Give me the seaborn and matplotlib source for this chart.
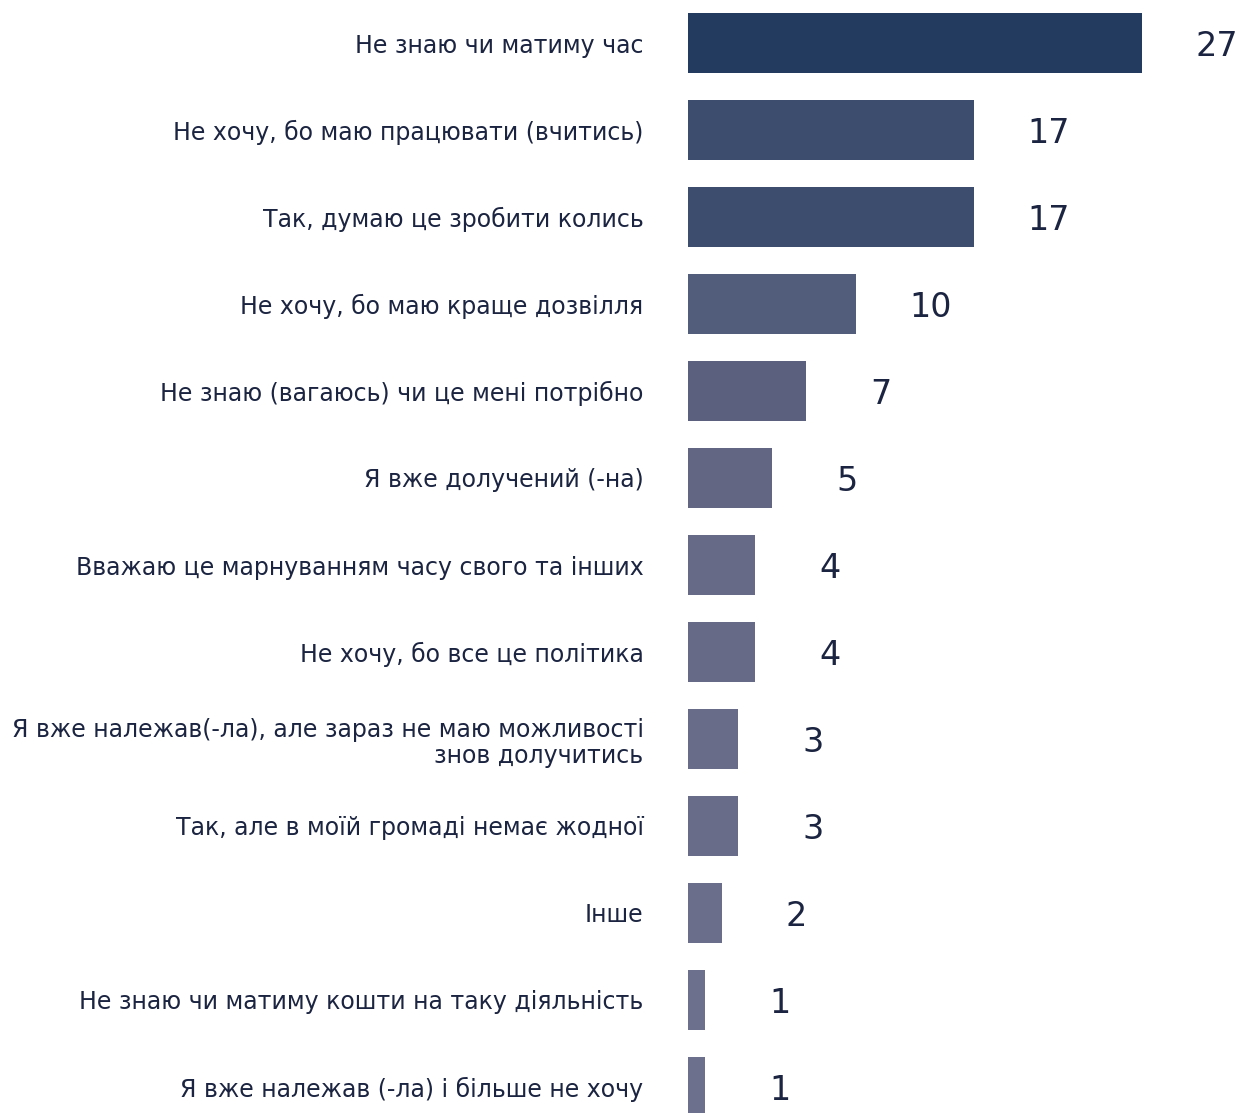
import matplotlib
matplotlib.use("Agg")
import matplotlib.pyplot as plt
import seaborn as sns
import pandas as pd

categories = [
    "Не знаю чи матиму час",
    "Не хочу, бо маю працювати (вчитись)",
    "Так, думаю це зробити колись",
    "Не хочу, бо маю краще дозвілля",
    "Не знаю (вагаюсь) чи це мені потрібно",
    "Я вже долучений (-на)",
    "Вважаю це марнуванням часу свого та інших",
    "Не хочу, бо все це політика",
    "Я вже належав(-ла), але зараз не маю можливості\nзнов долучитись",
    "Так, але в моїй громаді немає жодної",
    "Інше",
    "Не знаю чи матиму кошти на таку діяльність",
    "Я вже належав (-ла) і більше не хочу",
]
values = [27, 17, 17, 10, 7, 5, 4, 4, 3, 3, 2, 1, 1]
bar_colors = ["#223B5F", "#3D4D6E", "#3D4D6E", "#525D7B", "#5A607E", "#626683",
              "#666A86", "#666A86", "#686C88", "#686C88", "#6A6E8A", "#6C708D", "#6C708D"]

df = pd.DataFrame({"category": categories, "value": values})

sns.set_theme(style="white")
plt.rcParams['font.family'] = ['DejaVu Sans']

fig = plt.figure(figsize=(12.39, 11.13), dpi=100)
ax = fig.add_axes([688 / 1239, 0, 1 - 688 / 1239, 1])

sns.barplot(data=df, x="value", y="category", hue="category", palette=bar_colors,
            legend=False, width=0.69, saturation=1, linewidth=0, ax=ax, orient="h")

ppu = 16.8
ax.set_xlim(0, (1239 - 688) / ppu)
ax.set_ylim(12 + 26 / 87, -43 / 87)

text_color = "#1B2440"
for i, v in enumerate(values):
    ax.text(v + 75 / ppu, i, str(v), ha="center", va="center_baseline",
            fontsize=24, color=text_color)

ax.set_yticks(range(len(categories)))
ax.set_yticklabels(categories, fontsize=17, color=text_color, ha="right",
                   linespacing=1.15)
ax.tick_params(axis="y", length=0, pad=32)
ax.set_xticks([])
ax.set_xlabel("")
ax.set_ylabel("")
for s in ax.spines.values():
    s.set_visible(False)

fig.savefig("out.png", dpi=100)
